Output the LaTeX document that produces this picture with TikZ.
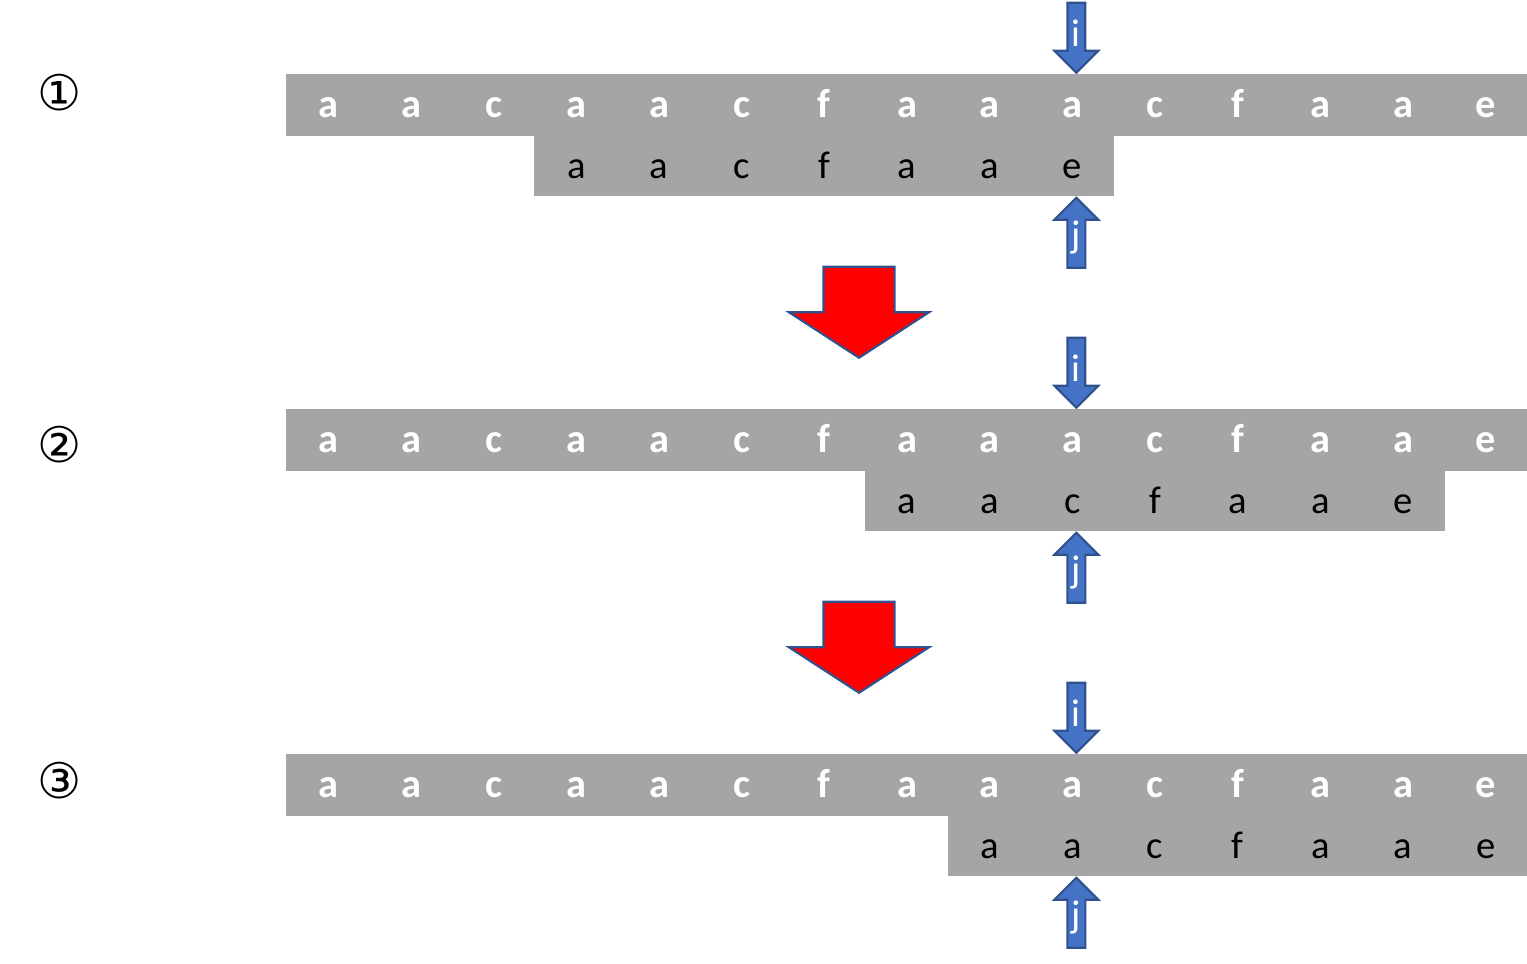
\documentclass[tikz,border=0pt]{standalone}
\usepackage{fontspec}
\setmainfont{Carlito}
\newfontfamily\circfont{DejaVu Sans}
\usetikzlibrary{shapes.arrows}

\definecolor{cellgrey}{HTML}{A5A5A5}
\definecolor{ptrblue}{HTML}{4472C4}
\definecolor{ptredge}{HTML}{2F528F}

\tikzset{
	textcell/.style={fill=cellgrey, draw=cellgrey, line width=0.3pt, minimum width=0.8267cm, minimum height=0.605cm, inner sep=0pt, text height=0.24cm, text depth=0pt, font=\fontsize{11}{13}\selectfont},
	topcell/.style={textcell, text=white, font=\fontsize{11.5}{13}\selectfont\bfseries},
	patcell/.style={textcell, text=black, text height=0.26cm},
	ptr/.style={single arrow, draw=ptredge, fill=ptrblue, text=white, minimum height=0.70cm, minimum width=0.44cm, single arrow head extend=0.11cm, inner sep=0.02cm, line width=0.6pt, font=\fontsize{11}{13}\selectfont},
	iptr/.style={ptr, shape border rotate=270, anchor=tip},
	jptr/.style={ptr, shape border rotate=90, anchor=tip},
	shiftarrow/.style={single arrow, draw=ptredge, fill=red, minimum height=0.91cm, minimum width=1.38cm, single arrow head extend=0.345cm, single arrow tip angle=114, shape border rotate=270, anchor=tip, inner xsep=0.345cm, inner ysep=0pt, line width=0.6pt},
	stepno/.style={font=\circfont\fontsize{14}{16}\selectfont}
}

\begin{document}
\begin{tikzpicture}
	\useasboundingbox (0,0) rectangle (15.27,-9.63);
	% text rows
	\foreach \s/\y in {1/1.05, 2/4.40, 3/7.85} {
		\foreach \c [count=\k] in {a,a,c,a,a,c,f,a,a,a,c,f,a,a,e}
			\node[topcell] (t\s-\k) at ({2.87+(\k-0.5)*0.8267},-\y) {\c};
	}
	% pattern rows
	\foreach \s/\y/\off in {1/1.655/3, 2/5.005/7, 3/8.455/8} {
		\foreach \c [count=\k] in {a,a,c,f,a,a,e}
			\node[patcell] (p\s-\k) at ({2.87+(\off+\k-0.5)*0.8267},-\y) {\c};
	}
	% pointers
	\node[iptr] (i1) at ([xshift=0.04cm]t1-10.north) {i};
	\node[jptr] (j1) at ([xshift=0.04cm]p1-7.south) {j};
	\node[iptr] (i2) at ([xshift=0.04cm]t2-10.north) {i};
	\node[jptr] (j2) at ([xshift=0.04cm]p2-3.south) {j};
	\node[iptr] (i3) at ([xshift=0.04cm]t3-10.north) {i};
	\node[jptr] (j3) at ([xshift=0.04cm]p3-2.south) {j};
	% shifts
	\node[shiftarrow] (shift1) at (8.59,-3.59) {};
	\node[shiftarrow] (shift2) at (8.59,-6.94) {};
	\node[stepno] (step1) at (0.60,-0.93) {①};
	\node[stepno] (step2) at (0.60,-4.45) {②};
	\node[stepno] (step3) at (0.60,-7.81) {③};
\end{tikzpicture}
\end{document}
